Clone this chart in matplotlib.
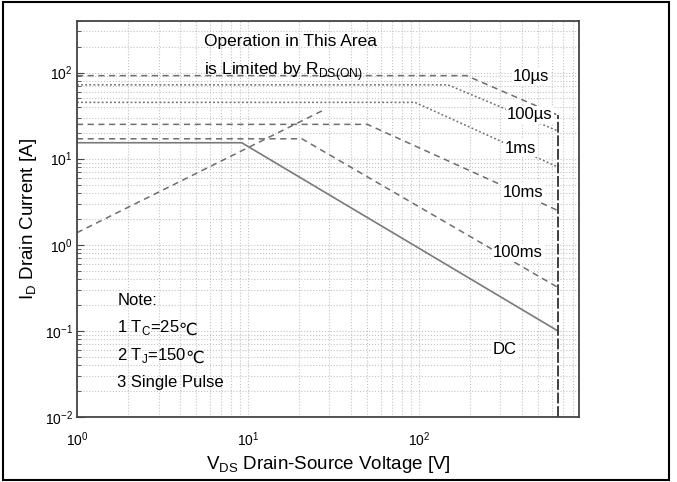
import matplotlib
matplotlib.use('Agg')
import matplotlib.pyplot as plt
from matplotlib.patches import Rectangle

plt.rcParams['font.family'] = ['Liberation Sans', 'DejaVu Sans']
plt.rcParams['mathtext.fontset'] = 'custom'
plt.rcParams['mathtext.rm'] = 'Liberation Sans'

# safe operating area curves (V, A)
dc_v = [1, 9.2, 650]
dc_i = [15.3, 15.3, 0.1]
ms100_v = [1, 20.7, 650]
ms100_i = [17, 17, 0.32]
ms10_v = [1, 50, 650]
ms10_i = [25, 25, 2.5]
ms1_v = [1, 95, 650]
ms1_i = [45, 45, 8]
us100_v = [1, 148, 650]
us100_i = [72, 72, 21]
us10_v = [1, 190, 650]
us10_i = [92, 92, 32]
rds_v = [1, 28]
rds_i = [1.38, 37]
bv_v = [650, 650]
bv_i = [0.01, 32]

curve_labels = ['10µs', '100µs', '1ms', '10ms', '100ms', 'DC']
note_lines = ['Note:', '1 T$_\\mathregular{C}$=25', '2 T$_\\mathregular{J}$=150', '3 Single Pulse']
note_tails = ['', '℃', '℃', '']

fig = plt.figure(figsize=(6.77, 4.82), dpi=100)
ax = fig.add_axes([0.1137, 0.1349, 0.7415, 0.8222])

dash = (0, (4, 3))
dots = (0, (1.2, 1.5))
gray = '#6e6e6e'

ax.plot(us10_v, us10_i, color=gray, lw=1.1, linestyle=dash)
ax.plot(us100_v, us100_i, color=gray, lw=1.1, linestyle=dots)
ax.plot(ms1_v, ms1_i, color=gray, lw=1.1, linestyle=dots)
ax.plot(ms10_v, ms10_i, color=gray, lw=1.1, linestyle=dash)
ax.plot(ms100_v, ms100_i, color=gray, lw=1.1, linestyle=dash)
ax.plot(rds_v, rds_i, color=gray, lw=1.1, linestyle=dash)
ax.plot(dc_v, dc_i, color='#7a7a7a', lw=1.2, linestyle='-')
ax.plot(bv_v, bv_i, color='#303030', lw=1.3, linestyle=(0, (6, 1.5)))

ax.set_xscale('log')
ax.set_yscale('log')
ax.set_xlim(1, 865)
ax.set_ylim(0.01, 400)

ax.grid(True, which='both', color='#c4c4c4', linestyle=':', lw=0.8)
ax.tick_params(which='both', direction='in', labelsize=10, color='#444444')
ax.tick_params(which='major', length=5)
ax.tick_params(which='minor', length=3)
ax.tick_params(axis='x', which='both', length=0, pad=10)
ax.tick_params(axis='y', pad=3)
for sp in ax.spines.values():
    sp.set_color('#444444')
    sp.set_linewidth(1.3)

ax.set_xlabel('V$_\\mathregular{DS}$ Drain-Source Voltage [V]', fontsize=13.5, labelpad=3)
ax.set_ylabel('I$_\\mathregular{D}$ Drain Current [A]', fontsize=13.5, labelpad=4)

# texts placed in axes fractions
box = dict(facecolor='white', edgecolor='none', pad=1)
ax.text(0.253, 0.948, 'Operation in This Area', transform=ax.transAxes, fontsize=12.5, va='center')
ax.text(0.253, 0.872, 'is Limited by R$_\\mathregular{DS(ON)}$', transform=ax.transAxes, fontsize=12.5, va='center')

label_x = [0.869, 0.857, 0.852, 0.848, 0.829, 0.827]
label_y = [0.858, 0.762, 0.678, 0.566, 0.414, 0.17]
for t, lx, ly in zip(curve_labels, label_x, label_y):
    ax.text(lx, ly, t, transform=ax.transAxes, fontsize=12, va='center', bbox=box)

for k, t in enumerate(note_lines):
    txt = ax.text(0.08, 0.283 - k * 0.069, t, transform=ax.transAxes, fontsize=12, va='baseline')
    if note_tails[k]:
        # degree sign drawn as plain text so the font fallback can find it
        ax.annotate(note_tails[k], xy=(1, 0), xycoords=txt, xytext=(-1, 1.5),
                    textcoords='offset points', fontsize=12, va='baseline')

fig.add_artist(Rectangle((0.0044, 0.004), 0.9838, 0.9917, transform=fig.transFigure,
                         fill=False, edgecolor='black', lw=1.5))

fig.savefig('out.png', dpi=100)
